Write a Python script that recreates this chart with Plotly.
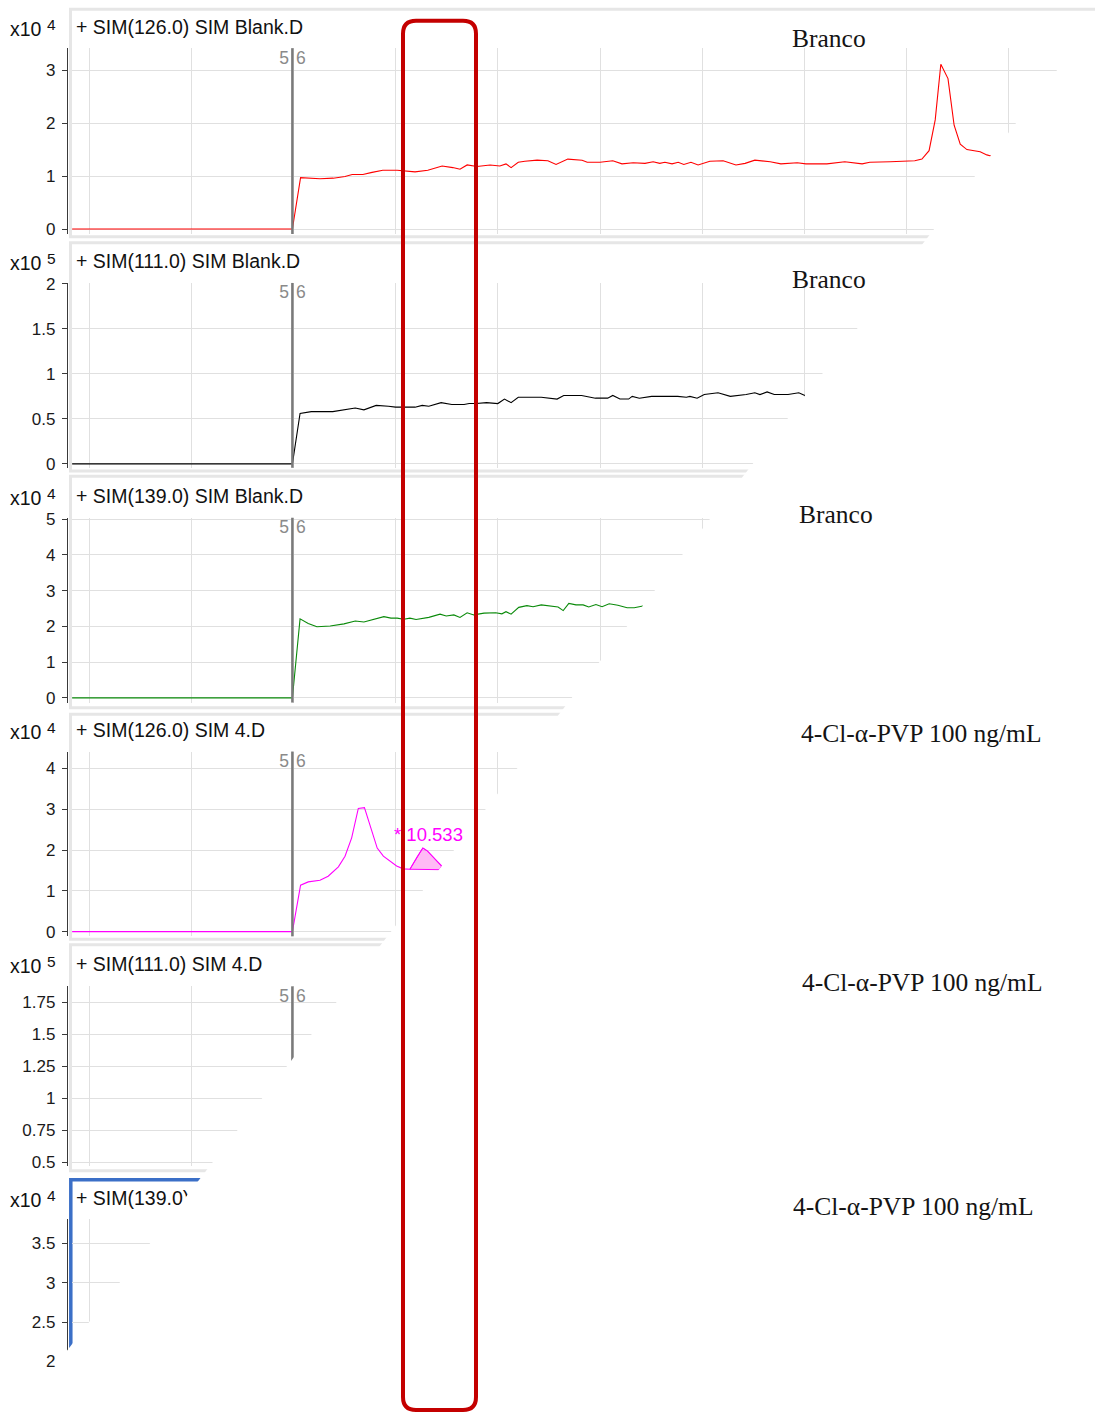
import plotly.graph_objects as go

W, H = 1095, 1415

# ---------------- chromatogram data ----------------
# retention time in minutes, abundance in units of the panel multiplier
seg_change = 7.98  # acquisition segment 5 -> 6

rt_126_blank = [3.67, 7.98, 8.14, 8.52, 8.78, 9.01, 9.15, 9.36, 9.54, 9.75,
                10.03, 10.38, 10.63, 10.91, 11.12, 11.26, 11.40, 11.59, 11.85,
                12.04, 12.16, 12.26, 12.40, 12.53, 12.77, 12.98, 13.14, 13.37,
                13.65, 13.75, 14.00, 14.25, 14.43, 14.65, 14.88, 15.04, 15.17,
                15.27, 15.41, 15.53, 15.64, 15.78, 15.92, 16.15, 16.41, 16.66,
                16.84, 17.03, 17.33, 17.54, 17.86, 18.03, 18.44, 18.79, 19.13,
                19.28, 19.68, 20.01, 20.16, 20.30, 20.44, 20.56, 20.67, 20.81,
                20.93, 21.05, 21.18, 21.44, 21.57, 21.65]
ab_126_blank = [0, 0, 0.97, 0.95, 0.96, 0.99, 1.03, 1.03, 1.07, 1.11,
                1.11, 1.08, 1.11, 1.19, 1.16, 1.13, 1.21, 1.18, 1.21,
                1.19, 1.23, 1.16, 1.26, 1.28, 1.30, 1.29, 1.22, 1.32,
                1.30, 1.26, 1.26, 1.29, 1.23, 1.25, 1.24, 1.27, 1.24,
                1.26, 1.23, 1.26, 1.22, 1.26, 1.21, 1.28, 1.29, 1.21,
                1.24, 1.30, 1.27, 1.23, 1.25, 1.23, 1.23, 1.27, 1.23,
                1.26, 1.27, 1.28, 1.29, 1.32, 1.48, 2.06, 3.11, 2.84,
                1.96, 1.60, 1.50, 1.46, 1.40, 1.38]

rt_111_blank = [3.67, 7.98, 8.13, 8.35, 8.77, 9.21, 9.38, 9.62, 9.86, 10.00,
                10.38, 10.52, 10.65, 10.89, 11.10, 11.34, 11.44, 11.58, 11.78,
                12.00, 12.13, 12.26, 12.40, 12.61, 12.85, 13.16, 13.29, 13.64,
                13.91, 14.15, 14.25, 14.39, 14.56, 14.63, 14.77, 15.01, 15.28,
                15.52, 15.69, 15.76, 15.90, 16.04, 16.31, 16.55, 16.86, 17.03,
                17.13, 17.27, 17.41, 17.68, 17.89, 18.01]
ab_111_blank = [0, 0, 0.56, 0.58, 0.58, 0.62, 0.60, 0.65, 0.64, 0.63,
                0.63, 0.65, 0.64, 0.68, 0.66, 0.66, 0.67, 0.67, 0.68,
                0.67, 0.72, 0.68, 0.74, 0.74, 0.74, 0.72, 0.76, 0.76,
                0.73, 0.73, 0.76, 0.72, 0.72, 0.75, 0.73, 0.75, 0.75,
                0.75, 0.74, 0.75, 0.73, 0.77, 0.79, 0.75, 0.77, 0.79,
                0.77, 0.80, 0.77, 0.77, 0.79, 0.76]

rt_139_blank = [3.67, 7.98, 8.13, 8.29, 8.46, 8.72, 8.99, 9.21, 9.38, 9.56,
                9.77, 9.91, 10.03, 10.16, 10.28, 10.40, 10.65, 10.87, 10.99,
                11.14, 11.26, 11.40, 11.53, 11.73, 11.96, 12.08, 12.16, 12.26,
                12.41, 12.57, 12.69, 12.85, 13.00, 13.18, 13.28, 13.39, 13.53,
                13.67, 13.78, 13.92, 14.04, 14.18, 14.35, 14.53, 14.67, 14.84]
ab_139_blank = [0, 0, 2.21, 2.08, 1.99, 2.01, 2.07, 2.15, 2.12, 2.19,
                2.27, 2.23, 2.23, 2.20, 2.23, 2.19, 2.25, 2.34, 2.29,
                2.32, 2.25, 2.38, 2.32, 2.37, 2.38, 2.35, 2.41, 2.34,
                2.53, 2.58, 2.55, 2.60, 2.58, 2.54, 2.44, 2.64, 2.60,
                2.60, 2.54, 2.61, 2.55, 2.63, 2.59, 2.52, 2.52, 2.57]

rt_126_s4 = [3.67, 7.98, 8.14, 8.29, 8.52, 8.68, 8.88, 9.01, 9.14, 9.27,
             9.39, 9.52, 9.64, 9.76, 9.89, 10.02, 10.15, 10.28, 10.42,
             10.533, 10.62, 10.74, 10.90]
ab_126_s4 = [0, 0, 1.14, 1.22, 1.26, 1.36, 1.59, 1.85, 2.30, 3.02,
             3.04, 2.55, 2.05, 1.85, 1.73, 1.61, 1.54, 1.53, 1.83,
             2.05, 1.98, 1.81, 1.61]

rt_111_s4 = [3.67, 7.98]
ab_111_s4 = [0, 0]
rt_139_s4 = [3.67, 7.98]
ab_139_s4 = [0, 0]

# integrated peak on m/z 126 (sample 4)
peak_start, peak_end = 10.28, 10.90
base_start_ab = 1.53
base_end_rt, base_end_ab = 10.86, 1.52

headers = ["+ SIM(126.0) SIM Blank.D", "+ SIM(111.0) SIM Blank.D",
           "+ SIM(139.0) SIM Blank.D", "+ SIM(126.0) SIM 4.D",
           "+ SIM(111.0) SIM 4.D", "+ SIM(139.0) SIM 4.D"]
exponents = ["4", "5", "4", "4", "5", "4"]
sample_labels = ["Branco", "Branco", "Branco",
                 "4-Cl-α-PVP 100 ng/mL", "4-Cl-α-PVP 100 ng/mL",
                 "4-Cl-α-PVP 100 ng/mL"]

series = [(rt_126_blank, ab_126_blank, "#ff0000"),
          (rt_111_blank, ab_111_blank, "#000000"),
          (rt_139_blank, ab_139_blank, "#0a8a0a"),
          (rt_126_s4, ab_126_s4, "#ff00ff"),
          (rt_111_s4, ab_111_s4, "#000000"),
          (rt_139_s4, ab_139_s4, "#0a8a0a")]

# ---------------- layout geometry (pixels from page top-left) ----------------
geo = [
    dict(top=48, bottom=234, yr=[-0.094, 3.415], dtick=1, head=29, ftop=9, fbot=236.8, lab=(829, 38)),
    dict(top=283, bottom=468, yr=[-0.044, 2.011], dtick=0.5, head=263.5, ftop=242.7, fbot=471.3, lab=(829, 280)),
    dict(top=518, bottom=703, yr=[-0.131, 5.036], dtick=1, head=498, ftop=476.5, fbot=708.3, lab=(836, 515)),
    dict(top=752, bottom=937, yr=[-0.115, 4.416], dtick=1, head=733, ftop=714.8, fbot=940, lab=(921, 734)),
    dict(top=987, bottom=1167, yr=[0.469, 1.875], dtick=0.25, head=967, ftop=945.5, fbot=1171.5, lab=(922, 983)),
    dict(top=1220, bottom=1367, yr=[1.943, 3.804], dtick=0.5, head=1201, ftop=1180.5, fbot=None, lab=(913, 1207)),
]
x_range = [3.667, 23.687]
PLOT_LEFT = 72
AXIS_X = 67

# vertical origin and scale of the drawing area on the page
Y0, YS = 7.8, 0.991

GRID = "#e0e0e0"
AXIS = "#3a3a3a"
FRAME = "#e6e6e6"
SANS = "Liberation Sans"
CLEAR = "rgba(0,0,0,0)"


def fx(x):
    return x / W


def fy(y):
    return 1 - (y - Y0) / YS / H


def P(x, y):
    return f"{fx(x):.5f},{fy(y):.5f}"


fig = go.Figure()
layout = dict(width=W, height=H, margin=dict(l=0, r=0, t=0, b=0, pad=0),
              paper_bgcolor="white", plot_bgcolor=CLEAR, showlegend=False)
shapes = []
annotations = []

for i, (g, (rt, ab, col)) in enumerate(zip(geo, series), start=1):
    xn = "x" if i == 1 else f"x{i}"
    yn = "y" if i == 1 else f"y{i}"
    layout["xaxis" if i == 1 else f"xaxis{i}"] = dict(
        domain=[fx(PLOT_LEFT), 1], range=x_range, anchor=yn,
        showgrid=True, gridcolor=GRID, gridwidth=1, tick0=0, dtick=2,
        showticklabels=False, ticks="", zeroline=False, showline=False,
        fixedrange=True)
    layout["yaxis" if i == 1 else f"yaxis{i}"] = dict(
        domain=[fy(g["bottom"]), fy(g["top"])], range=g["yr"],
        anchor="free", position=fx(AXIS_X),
        showline=True, linecolor=AXIS, linewidth=1.3,
        ticks="outside", ticklen=5, tickwidth=1, tickcolor=AXIS,
        ticklabelstandoff=3,
        tick0=0, dtick=g["dtick"], showgrid=True, gridcolor=GRID, gridwidth=1,
        zeroline=False, fixedrange=True,
        tickfont=dict(family=SANS, size=17, color="#1a1a1a"))

    fig.add_trace(go.Scatter(x=rt, y=ab, mode="lines", xaxis=xn, yaxis=yn,
                             line=dict(color=col, width=1.1), hoverinfo="skip"))

    # segment boundary marker with its segment numbers
    shapes.append(dict(type="line", xref=xn, yref=f"{yn} domain",
                       x0=seg_change, x1=seg_change, y0=0, y1=1, layer="above",
                       line=dict(color="#7a7a7a", width=2.5)))
    ppu = YS * (g["bottom"] - g["top"]) / (g["yr"][1] - g["yr"][0])
    ylab = g["yr"][1] - 11 / ppu
    fig.add_trace(go.Scatter(
        x=[seg_change, seg_change], y=[ylab, ylab], mode="text",
        text=["5\u2009", "\u20096"], textposition=["middle left", "middle right"],
        textfont=dict(family=SANS, size=17.5, color="#8a8a8a"),
        xaxis=xn, yaxis=yn, cliponaxis=False, hoverinfo="skip"))

    # panel frame
    if g["fbot"] is not None:
        shapes.append(dict(type="rect", xref="paper", yref="paper", layer="below",
                           x0=fx(70.5), x1=fx(1110), y0=fy(g["fbot"]), y1=fy(g["ftop"]),
                           line=dict(color=FRAME, width=3), fillcolor=CLEAR))
    else:
        shapes.append(dict(type="rect", xref="paper", yref="paper", layer="below",
                           x0=fx(70.8), x1=fx(1110), y0=fy(1430), y1=fy(g["ftop"]),
                           line=dict(color="#3b6fc7", width=3.5), fillcolor=CLEAR))

    # sample label on the right
    annotations.append(dict(x=fx(g["lab"][0]), y=fy(g["lab"][1]), xref="paper", yref="paper",
                            text=sample_labels[i - 1], showarrow=False,
                            xanchor="center", yanchor="middle",
                            font=dict(family="Liberation Serif", size=25.5, color="#141414")))

# integrated peak area on m/z 126 of sample 4
pk_x = [t for t in rt_126_s4 if peak_start <= t <= peak_end]
pk_y = [a for t, a in zip(rt_126_s4, ab_126_s4) if peak_start <= t <= peak_end]
fig.add_trace(go.Scatter(
    x=pk_x + [base_end_rt, peak_start], y=pk_y + [base_end_ab, base_start_ab],
    mode="lines", fill="toself", fillcolor="rgba(255,90,230,0.42)",
    line=dict(color="#ff00ff", width=1), xaxis="x4", yaxis="y4", hoverinfo="skip"))
apex_i = max(range(len(pk_y)), key=lambda k: pk_y[k])
apex_rt, apex_ab = pk_x[apex_i], pk_y[apex_i]
annotations.append(dict(x=apex_rt, y=apex_ab, xref="x4", yref="y4",
                        text=f"* {apex_rt:.3f}", showarrow=False,
                        xanchor="center", yanchor="bottom", xshift=6, yshift=1,
                        font=dict(family=SANS, size=18.5, color="#ff00ff")))

# full-page canvas axis for panel headings
layout["xaxis7"] = dict(domain=[0, 1], range=[0, W], visible=False, fixedrange=True, anchor="y7")
layout["yaxis7"] = dict(domain=[0, 1], range=[Y0 + YS * H, Y0], visible=False,
                        fixedrange=True, anchor="x7")
heads = [g["head"] for g in geo]
fig.add_trace(go.Scatter(
    x=[76] * 6, y=heads, mode="text", text=headers, textposition="middle right",
    textfont=dict(family=SANS, size=19.5, color="#111111"),
    xaxis="x7", yaxis="y7", cliponaxis=False, hoverinfo="skip"))
fig.add_trace(go.Scatter(
    x=[10] * 6, y=[h + 2 for h in heads], mode="text", text=["x10"] * 6,
    textposition="middle right", textfont=dict(family=SANS, size=19.5, color="#111111"),
    xaxis="x7", yaxis="y7", cliponaxis=False, hoverinfo="skip"))
fig.add_trace(go.Scatter(
    x=[47] * 6, y=[h - 3 for h in heads], mode="text", text=exponents,
    textposition="middle right", textfont=dict(family=SANS, size=15.5, color="#111111"),
    xaxis="x7", yaxis="y7", cliponaxis=False, hoverinfo="skip"))

# diagonal wipe covering the lower-right part of the view
wipe = [(1100, 14.3), (60, 1360.8), (60, 1440), (1100, 1440)]
shapes.append(dict(type="path", xref="paper", yref="paper", layer="above",
                   path="M" + " L".join(P(x, y) for x, y in wipe) + " Z",
                   fillcolor="white", line=dict(width=0)))

# highlighted retention window
x0, x1, y0, y1, r = 403, 476, 20.5, 1411, 13
rr = (f"M{P(x0 + r, y0)} L{P(x1 - r, y0)} Q{P(x1, y0)} {P(x1, y0 + r)} "
      f"L{P(x1, y1 - r)} Q{P(x1, y1)} {P(x1 - r, y1)} L{P(x0 + r, y1)} "
      f"Q{P(x0, y1)} {P(x0, y1 - r)} L{P(x0, y0 + r)} Q{P(x0, y0)} {P(x0 + r, y0)} Z")
shapes.append(dict(type="path", xref="paper", yref="paper", layer="above", path=rr,
                   fillcolor=CLEAR, line=dict(color="#c40000", width=4)))

layout["shapes"] = shapes
layout["annotations"] = annotations
fig.update_layout(**layout)
fig.write_html("out.html")
